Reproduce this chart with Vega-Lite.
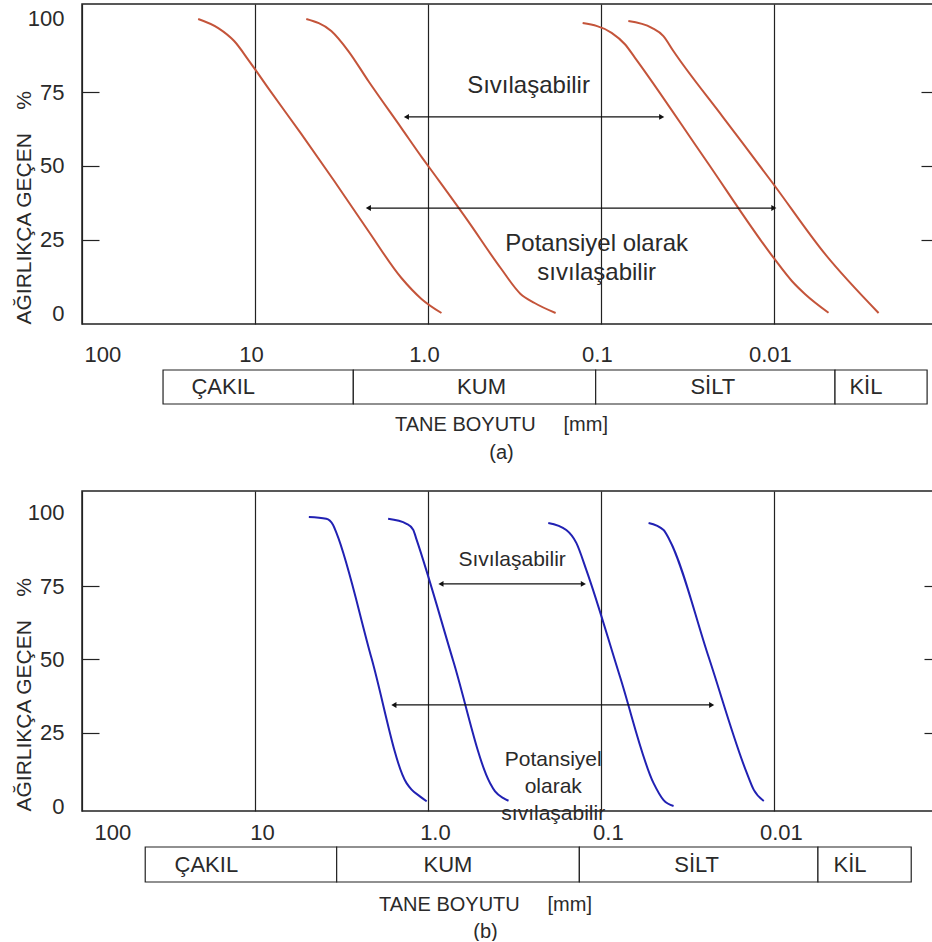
{
  "$schema": "https://vega.github.io/schema/vega-lite/v6.json",
  "background": "white",
  "padding": {"left": 12, "top": 3, "right": 0, "bottom": 0},
  "config": {
    "font": "Liberation Sans",
    "view": {"stroke": "#222", "strokeWidth": 1.5},
    "axis": {"labelFont": "Liberation Sans", "titleFont": "Liberation Sans", "labelColor": "#2a2a2a", "titleColor": "#2a2a2a", "titleFontWeight": "normal"},
    "text": {"font": "Liberation Sans", "color": "#2a2a2a"}
  },
  "datasets": {
    "curves_a": [
      {"c": 1, "d": 21.3, "p": 100}, {"c": 1, "d": 16.3, "p": 96.9}, {"c": 1, "d": 13.19, "p": 92.5}, {"c": 1, "d": 10.8, "p": 85.7}, {"c": 1, "d": 8.38, "p": 76.5}, {"c": 1, "d": 5.4, "p": 60.9}, {"c": 1, "d": 3.48, "p": 44.9}, {"c": 1, "d": 2.21, "p": 27.9}, {"c": 1, "d": 1.423, "p": 11.9}, {"c": 1, "d": 1.09, "p": 4.8}, {"c": 1, "d": 0.835, "p": 0},
      {"c": 2, "d": 5.05, "p": 100}, {"c": 2, "d": 3.62, "p": 95.9}, {"c": 2, "d": 2.885, "p": 89.1}, {"c": 2, "d": 2.21, "p": 78.9}, {"c": 2, "d": 1.423, "p": 62.9}, {"c": 2, "d": 1.076, "p": 52.7}, {"c": 2, "d": 0.917, "p": 47.1}, {"c": 2, "d": 0.59, "p": 31.5}, {"c": 2, "d": 0.38, "p": 15.3}, {"c": 2, "d": 0.2914, "p": 6.5}, {"c": 2, "d": 0.2418, "p": 3.4}, {"c": 2, "d": 0.1827, "p": 0},
      {"c": 3, "d": 0.1275, "p": 98.6}, {"c": 3, "d": 0.0867, "p": 95.3}, {"c": 3, "d": 0.0726, "p": 91.4}, {"c": 3, "d": 0.0635, "p": 86.8}, {"c": 3, "d": 0.02526, "p": 52.8}, {"c": 3, "d": 0.01004, "p": 18.8}, {"c": 3, "d": 0.00787, "p": 10.9}, {"c": 3, "d": 0.00659, "p": 6.4}, {"c": 3, "d": 0.00483, "p": 0.1},
      {"c": 4, "d": 0.0694, "p": 99.3}, {"c": 4, "d": 0.0508, "p": 97.0}, {"c": 4, "d": 0.0435, "p": 94.2}, {"c": 4, "d": 0.0381, "p": 89.1}, {"c": 4, "d": 0.01955, "p": 66.4}, {"c": 4, "d": 0.01004, "p": 43.8}, {"c": 4, "d": 0.00505, "p": 20.0}, {"c": 4, "d": 0.00248, "p": 0}
    ],
    "curves_b": [
      {"c": 1, "d": 4.88, "p": 98.6}, {"c": 1, "d": 3.87, "p": 98.0}, {"c": 1, "d": 3.54, "p": 96.0}, {"c": 1, "d": 3.38, "p": 93.2}, {"c": 1, "d": 2.12, "p": 50.5}, {"c": 1, "d": 1.329, "p": 7.8}, {"c": 1, "d": 1.243, "p": 5.6}, {"c": 1, "d": 1.113, "p": 3.3}, {"c": 1, "d": 1.017, "p": 1.6},
      {"c": 2, "d": 1.699, "p": 98.0}, {"c": 2, "d": 1.329, "p": 96.3}, {"c": 2, "d": 1.217, "p": 94.3}, {"c": 2, "d": 1.163, "p": 90.9}, {"c": 2, "d": 0.713, "p": 49.4}, {"c": 2, "d": 0.437, "p": 7.8}, {"c": 2, "d": 0.409, "p": 5.0}, {"c": 2, "d": 0.366, "p": 2.7}, {"c": 2, "d": 0.342, "p": 1.8},
      {"c": 3, "d": 0.2015, "p": 96.6}, {"c": 3, "d": 0.1585, "p": 94.2}, {"c": 3, "d": 0.1387, "p": 89.8}, {"c": 3, "d": 0.1213, "p": 80.5}, {"c": 3, "d": 0.0776, "p": 44.2}, {"c": 3, "d": 0.0496, "p": 7.8}, {"c": 3, "d": 0.0434, "p": 2.0}, {"c": 3, "d": 0.038, "p": 0},
      {"c": 4, "d": 0.053, "p": 96.6}, {"c": 4, "d": 0.0434, "p": 94.2}, {"c": 4, "d": 0.0401, "p": 90.8}, {"c": 4, "d": 0.0239, "p": 51.1}, {"c": 4, "d": 0.01434, "p": 11.3}, {"c": 4, "d": 0.01306, "p": 5.5}, {"c": 4, "d": 0.01143, "p": 1.7}
    ],
    "arrows_a": [
      {"name": "Sıvılaşabilir", "from": 1.332, "to": 0.0445, "p": 66.7},
      {"name": "Potansiyel olarak sıvılaşabilir", "from": 2.21, "to": 0.01, "p": 35.7}
    ],
    "arrows_b": [
      {"name": "Sıvılaşabilir", "from": 0.841, "to": 0.1263, "p": 75.8},
      {"name": "Potansiyel olarak sıvılaşabilir", "from": 1.574, "to": 0.02288, "p": 34.5}
    ],
    "notes_a": [
      {"t": "Sıvılaşabilir", "d": 0.262, "p": 77.2},
      {"t": "Potansiyel olarak\nsıvılaşabilir", "d": 0.1058, "p": 23.6}
    ],
    "notes_b": [
      {"t": "Sıvılaşabilir", "d": 0.326, "p": 84.0},
      {"t": "Potansiyel\nolarak\nsıvılaşabilir", "d": 0.1886, "p": 15.7}
    ],
    "strip_a": [
      {"name": "ÇAKIL", "start": 34, "end": 2.7, "at": 15.26},
      {"name": "KUM", "start": 2.7, "end": 0.1072, "at": 0.49},
      {"name": "SİLT", "start": 0.1072, "end": 0.00443, "at": 0.02254},
      {"name": "KİL", "start": 0.00443, "end": 0.0013, "at": 0.002934}
    ],
    "strip_b": [
      {"name": "ÇAKIL", "start": 43.1, "end": 3.37, "at": 19.1},
      {"name": "KUM", "start": 3.37, "end": 0.1332, "at": 0.766},
      {"name": "SİLT", "start": 0.1332, "end": 0.00556, "at": 0.02796},
      {"name": "KİL", "start": 0.00556, "end": 0.001606, "at": 0.003626}
    ]
  },
  "resolve": {"scale": {"x": "independent", "y": "independent"}},
  "spacing": 28,
  "vconcat": [
    {
      "resolve": {"scale": {"x": "independent", "y": "independent"}},
      "spacing": 3,
      "vconcat": [
        {
          "width": 852,
          "height": 320,
          "resolve": {"axis": {"x": "independent", "y": "independent"}},
          "layer": [
            {
              "data": {"name": "curves_a"},
              "mark": {"type": "line", "color": "#c4543a", "strokeWidth": 2, "interpolate": "monotone"},
              "encoding": {
                "x": {"field": "d", "type": "quantitative", "scale": {"type": "log", "domain": [0.001186, 100], "reverse": true, "nice": false},
                  "axis": {"values": [100, 10, 1, 0.1, 0.01], "labelExpr": "datum.value == 1 ? '1.0' : format(datum.value, '~g')", "title": null, "grid": true, "gridColor": "#222", "gridWidth": 1.2, "gridOpacity": 1, "ticks": false, "domain": false, "labelFontSize": 22, "labelPadding": 20, "labelOverlap": false, "labelFlush": false, "labelBound": false,
                    "labelAlign": {"condition": {"test": "datum.value == 100", "value": "left"}, "value": "center"},
                    "labelOffset": {"condition": {"test": "datum.value == 100", "value": 2}, "value": -4}}},
                "y": {"field": "p", "type": "quantitative", "scale": {"domain": [-3.74, 105.1], "nice": false, "zero": false},
                  "axis": {"values": [0, 25, 50, 75, 100], "title": "AĞIRLIKÇA GEÇEN\u00a0\u00a0\u00a0\u00a0%", "titleAnchor": "start", "titleFontSize": 21, "titlePadding": -7, "ticks": true, "tickSize": -17, "tickColor": "#222", "tickWidth": 1.2,
                    "tickOpacity": {"condition": {"test": "datum.value == 0 || datum.value == 100", "value": 0}, "value": 1},
                    "domain": false, "grid": false, "labelFontSize": 22, "labelPadding": 35}},
                "detail": {"field": "c"}
              }
            },
            {
              "data": {"name": "arrows_a"},
              "mark": {"type": "rule", "color": "#111", "strokeWidth": 1.2},
              "encoding": {
                "x": {"field": "from", "type": "quantitative", "axis": null},
                "x2": {"field": "to"},
                "y": {"field": "p", "type": "quantitative", "axis": null}
              }
            },
            {
              "data": {"name": "arrows_a"},
              "mark": {"type": "point", "shape": "triangle-left", "filled": true, "color": "#111", "size": 35, "opacity": 1},
              "encoding": {
                "x": {"field": "from", "type": "quantitative", "axis": null},
                "y": {"field": "p", "type": "quantitative", "axis": null}
              }
            },
            {
              "data": {"name": "arrows_a"},
              "mark": {"type": "point", "shape": "triangle-right", "filled": true, "color": "#111", "size": 35, "opacity": 1},
              "encoding": {
                "x": {"field": "to", "type": "quantitative", "axis": null},
                "y": {"field": "p", "type": "quantitative", "axis": {"orient": "right", "values": [25, 50, 75], "labels": false, "domain": false, "grid": false, "title": null, "tickSize": -13, "tickColor": "#222", "tickWidth": 1.2}}
              }
            },
            {
              "data": {"name": "notes_a"},
              "mark": {"type": "text", "fontSize": 24, "lineBreak": "\n", "lineHeight": 29, "align": "center", "baseline": "middle"},
              "encoding": {
                "x": {"field": "d", "type": "quantitative", "axis": null},
                "y": {"field": "p", "type": "quantitative", "axis": null},
                "text": {"field": "t"}
              }
            }
          ]
        },
        {
          "width": 852,
          "height": 34,
          "view": {"stroke": null},
          "data": {"name": "strip_a"},
          "layer": [
            {
              "mark": {"type": "rect", "fill": "white", "stroke": "#222", "strokeWidth": 1.2},
              "encoding": {
                "x": {"field": "start", "type": "quantitative", "scale": {"type": "log", "domain": [0.001186, 100], "reverse": true, "nice": false},
                  "axis": {"title": ["TANE BOYUTU\u00a0\u00a0\u00a0\u00a0\u00a0[mm]", "(a)"], "labels": false, "ticks": false, "domain": false, "grid": false, "titleFontSize": 20, "titlePadding": 10, "titleLineHeight": 28, "titleX": 419, "titleAlign": "center"}},
                "x2": {"field": "end"}
              }
            },
            {
              "mark": {"type": "text", "fontSize": 22, "align": "center", "baseline": "middle"},
              "encoding": {
                "x": {"field": "at", "type": "quantitative"},
                "text": {"field": "name"}
              }
            }
          ]
        }
      ]
    },
    {
      "resolve": {"scale": {"x": "independent", "y": "independent"}},
      "spacing": 2,
      "vconcat": [
        {
          "width": 852,
          "height": 320,
          "resolve": {"axis": {"x": "independent", "y": "independent"}},
          "layer": [
            {
              "data": {"name": "curves_b"},
              "mark": {"type": "line", "color": "#2121b3", "strokeWidth": 2, "interpolate": "monotone"},
              "encoding": {
                "x": {"field": "d", "type": "quantitative", "scale": {"type": "log", "domain": [0.001186, 100], "reverse": true, "nice": false},
                  "axis": {"values": [100, 10, 1, 0.1, 0.01], "labelExpr": "datum.value == 1 ? '1.0' : format(datum.value, '~g')", "title": null, "grid": true, "gridColor": "#222", "gridWidth": 1.2, "gridOpacity": 1, "ticks": false, "domain": false, "labelFontSize": 22, "labelPadding": 11, "labelOverlap": false, "labelFlush": false, "labelBound": false,
                    "labelAlign": {"condition": {"test": "datum.value == 100", "value": "left"}, "value": "center"},
                    "labelOffset": {"condition": {"test": "datum.value == 100", "value": 12}, "value": 7}}},
                "y": {"field": "p", "type": "quantitative", "scale": {"domain": [-1.7, 107.5], "nice": false, "zero": false},
                  "axis": {"values": [0, 25, 50, 75, 100], "title": "AĞIRLIKÇA GEÇEN\u00a0\u00a0\u00a0\u00a0%", "titleAnchor": "start", "titleFontSize": 21, "titlePadding": -7, "ticks": true, "tickSize": -17, "tickColor": "#222", "tickWidth": 1.2,
                    "tickOpacity": {"condition": {"test": "datum.value == 0 || datum.value == 100", "value": 0}, "value": 1},
                    "domain": false, "grid": false, "labelFontSize": 22, "labelPadding": 35}},
                "detail": {"field": "c"}
              }
            },
            {
              "data": {"name": "arrows_b"},
              "mark": {"type": "rule", "color": "#111", "strokeWidth": 1.2},
              "encoding": {
                "x": {"field": "from", "type": "quantitative", "axis": null},
                "x2": {"field": "to"},
                "y": {"field": "p", "type": "quantitative", "axis": null}
              }
            },
            {
              "data": {"name": "arrows_b"},
              "mark": {"type": "point", "shape": "triangle-left", "filled": true, "color": "#111", "size": 35, "opacity": 1},
              "encoding": {
                "x": {"field": "from", "type": "quantitative", "axis": null},
                "y": {"field": "p", "type": "quantitative", "axis": null}
              }
            },
            {
              "data": {"name": "arrows_b"},
              "mark": {"type": "point", "shape": "triangle-right", "filled": true, "color": "#111", "size": 35, "opacity": 1},
              "encoding": {
                "x": {"field": "to", "type": "quantitative", "axis": null},
                "y": {"field": "p", "type": "quantitative", "axis": {"orient": "right", "values": [25, 50, 75], "labels": false, "domain": false, "grid": false, "title": null, "tickSize": -10, "tickColor": "#222", "tickWidth": 1.2}}
              }
            },
            {
              "data": {"name": "notes_b"},
              "mark": {"type": "text", "fontSize": 21, "lineBreak": "\n", "lineHeight": 27, "align": "center", "baseline": "middle"},
              "encoding": {
                "x": {"field": "d", "type": "quantitative", "axis": null},
                "y": {"field": "p", "type": "quantitative", "axis": null},
                "text": {"field": "t"}
              }
            }
          ]
        },
        {
          "width": 852,
          "height": 35,
          "view": {"stroke": null},
          "data": {"name": "strip_b"},
          "layer": [
            {
              "mark": {"type": "rect", "fill": "white", "stroke": "#222", "strokeWidth": 1.2},
              "encoding": {
                "x": {"field": "start", "type": "quantitative", "scale": {"type": "log", "domain": [0.001186, 100], "reverse": true, "nice": false},
                  "axis": {"title": ["TANE BOYUTU\u00a0\u00a0\u00a0\u00a0\u00a0[mm]", "(b)"], "labels": false, "ticks": false, "domain": false, "grid": false, "titleFontSize": 20, "titlePadding": 12, "titleLineHeight": 27, "titleX": 403, "titleAlign": "center"}},
                "x2": {"field": "end"}
              }
            },
            {
              "mark": {"type": "text", "fontSize": 22, "align": "center", "baseline": "middle"},
              "encoding": {
                "x": {"field": "at", "type": "quantitative"},
                "text": {"field": "name"}
              }
            }
          ]
        }
      ]
    }
  ]
}
